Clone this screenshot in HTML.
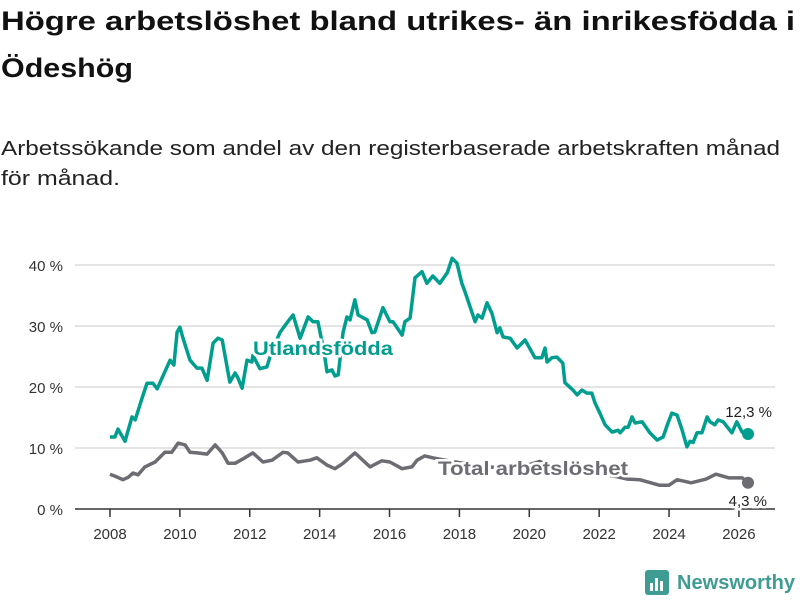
<!DOCTYPE html>
<html><head><meta charset="utf-8"><style>
body{margin:0;background:#fff;width:800px;height:600px;overflow:hidden}
svg{display:block;font-family:"Liberation Sans",sans-serif}
</style></head><body>
<svg id="chart" width="800" height="600" viewBox="0 0 800 600">
<text x="1" y="30" font-size="27" font-weight="bold" fill="#111" textLength="794" lengthAdjust="spacingAndGlyphs">Högre arbetslöshet bland utrikes- än inrikesfödda i</text>
<text x="1" y="77" font-size="27" font-weight="bold" fill="#111" textLength="132" lengthAdjust="spacingAndGlyphs">Ödeshög</text>
<text x="1" y="155" font-size="20" fill="#222" textLength="779" lengthAdjust="spacingAndGlyphs">Arbetssökande som andel av den registerbaserade arbetskraften månad</text>
<text x="1" y="185" font-size="20" fill="#222" textLength="119" lengthAdjust="spacingAndGlyphs">för månad.</text>
<g id="grid"></g><g id="xaxis"></g><g id="lines"></g><g id="labels"></g>
<g>
<rect x="645" y="570" width="24" height="25" rx="3" fill="#3f9c93"/>
<rect x="650" y="583" width="3" height="8" fill="#fff"/><rect x="655" y="578" width="3" height="13" fill="#fff"/><rect x="660" y="581" width="3" height="10" fill="#fff"/>
<text x="677" y="589" font-size="20" font-weight="bold" fill="#3f9c93" textLength="118" lengthAdjust="spacingAndGlyphs">Newsworthy</text>
</g>
</svg>
<script>
const yTicks=[0,10,20,30,40];
const yTickLabels=["0 %","10 %","20 %","30 %","40 %"];
const xTicks=[2008,2010,2012,2014,2016,2018,2020,2022,2024,2026];
const utlYears=[0,.14,.23,.43,.63,.72,.92,1.06,1.23,1.35,1.49,1.72,1.83,1.92,2.0,2.09,2.29,2.49,2.63,2.78,2.95,3.09,3.21,3.43,3.58,3.66,3.78,3.92,4.06,4.09,4.29,4.49,4.64,4.87,5.09,5.24,5.44,5.67,5.81,5.95,6.01,6.12,6.21,6.35,6.44,6.53,6.58,6.67,6.78,6.87,7.01,7.10,7.36,7.50,7.58,7.81,8.01,8.10,8.36,8.44,8.59,8.73,8.93,9.07,9.24,9.44,9.65,9.79,9.93,10.07,10.16,10.45,10.53,10.65,10.79,10.93,11.08,11.16,11.25,11.45,11.65,11.88,12.16,12.36,12.45,12.51,12.65,12.79,12.96,13.02,13.25,13.37,13.51,13.65,13.79,13.88,14.02,14.17,14.37,14.54,14.60,14.74,14.83,14.94,15.03,15.23,15.45,15.66,15.83,15.97,16.08,16.23,16.37,16.51,16.60,16.69,16.80,16.94,17.09,17.17,17.31,17.40,17.55,17.80,17.94,18.09,18.26];
const utlValues=[11.8,11.8,13.1,11.1,15.1,14.6,18.2,20.6,20.6,19.7,21.5,24.4,23.6,29.0,29.8,28.0,24.4,23.1,23.1,21.1,27.2,28.0,27.7,20.8,22.3,21.5,19.8,24.4,24.1,25.2,23.0,23.3,26.0,29.0,30.7,31.8,28.0,31.5,30.7,30.7,29.0,26.0,22.5,22.8,21.8,22.0,24.4,28.9,31.5,31.0,34.3,31.8,31.0,28.9,29.0,33.0,30.7,30.7,28.5,30.7,31.3,37.9,38.9,37.0,38.2,37.0,38.7,41.1,40.3,37.0,35.6,30.7,31.8,31.3,33.8,32.1,28.9,29.7,28.2,28.0,26.4,27.7,24.8,24.8,26.4,24.1,24.8,24.9,23.9,20.7,19.5,18.7,19.5,19.0,19.0,17.4,15.7,13.8,12.6,12.9,12.5,13.4,13.4,15.1,14.1,14.3,12.5,11.3,11.8,14.1,15.7,15.4,13.0,10.2,11.1,10.9,12.5,12.5,15.1,14.3,13.8,14.6,14.3,12.5,14.3,12.6,12.3];
const totYears=[0,.14,.37,.52,.66,.80,1.00,1.29,1.57,1.77,1.95,2.15,2.29,2.49,2.78,3.01,3.21,3.38,3.58,3.86,4.09,4.38,4.64,4.95,5.09,5.38,5.72,5.92,6.21,6.44,6.67,7.01,7.44,7.78,8.01,8.36,8.64,8.79,9.01,9.24,9.5,10.0,10.5,11.0,11.5,12.0,12.3,12.6,13.0,13.5,14.0,14.5,14.8,15.16,15.72,16.0,16.23,16.63,17.06,17.34,17.72,18.1,18.26];
const totValues=[5.7,5.4,4.8,5.2,5.9,5.6,6.9,7.7,9.3,9.3,10.8,10.5,9.3,9.2,9.0,10.5,9.2,7.5,7.5,8.4,9.2,7.7,8.0,9.3,9.2,7.7,8.0,8.4,7.2,6.6,7.5,9.2,6.9,7.9,7.7,6.6,6.9,8.0,8.7,8.4,8.1,7.6,7.2,6.8,6.6,7.3,7.8,7.0,6.6,6.2,5.8,5.3,4.9,4.8,3.9,3.9,4.8,4.3,4.9,5.7,5.1,5.1,4.3];
const NS="http://www.w3.org/2000/svg";
const X=y=>110+(y-2008)*34.94, Y=v=>509-v*6.1;
function mk(t,a,p){const e=document.createElementNS(NS,t);for(const k in a)e.setAttribute(k,a[k]);p.appendChild(e);return e;}
const grid=document.getElementById('grid'),xa=document.getElementById('xaxis'),ln=document.getElementById('lines'),lb=document.getElementById('labels');
yTicks.forEach((t,i)=>{
 if(t>0){const g=mk('line',{x1:75,x2:775,y1:Y(t),y2:Y(t),stroke:'#dcdcdc','stroke-width':1.5},grid);
 
 }
 const tx=mk('text',{x:63,y:Y(t)+6,'text-anchor':'end','font-size':15,fill:'#333'},grid);tx.textContent=yTickLabels[i];
 
 
});
const ax=mk('line',{x1:75,x2:775,y1:509,y2:509,stroke:'#333','stroke-width':1.5},xa);


xTicks.forEach(t=>{
 mk('line',{x1:X(t),x2:X(t),y1:509,y2:517,stroke:'#333','stroke-width':1.5},xa);
 const tx=mk('text',{x:X(t),y:539,'text-anchor':'middle','font-size':15,fill:'#333'},xa);tx.textContent=t;
 
 
});
function path(ys,vs){return ys.map((y,i)=>(i?'L':'M')+X(2008+y).toFixed(1)+','+Y(vs[i]).toFixed(1)).join('');}
const tp=mk('path',{d:path(totYears,totValues),fill:'none',stroke:'#6d6c72','stroke-width':3.5,'stroke-linejoin':'round'},ln);


const up=mk('path',{d:path(utlYears,utlValues),fill:'none',stroke:'#009e8f','stroke-width':3.5,'stroke-linejoin':'round'},ln);


const ue=utlYears.length-1,te=totYears.length-1;
const d1=mk('circle',{cx:X(2008+utlYears[ue]),cy:Y(utlValues[ue]),r:6,fill:'#009e8f'},ln);


const d2=mk('circle',{cx:X(2008+totYears[te]),cy:Y(totValues[te]),r:6,fill:'#6d6c72'},ln);


function lab(txt,x,y,c,sz,w,name,anchor,len){const a={x:x,y:y,'font-size':sz,'font-weight':w,fill:c,stroke:'#fff','stroke-width':5,'paint-order':'stroke','text-anchor':anchor||'start'};
 if(len){a.textLength=len;a.lengthAdjust='spacingAndGlyphs';}
 const t=mk('text',a,lb);t.textContent=txt;
 
 }
lab('Utlandsfödda',253,355,'#009e8f',19,'bold','utlandsfodda-label','start',140);
lab('Total arbetslöshet',438,475,'#6d6c72',19,'bold','total-label','start',190);
lab(String(utlValues[ue]).replace('.',',')+' %',772,417,'#222',15,'normal','utlandsfodda-value','end');
lab(String(totValues[te]).replace('.',',')+' %',767,506,'#222',15,'normal','total-value','end');
</script>
</body></html>
